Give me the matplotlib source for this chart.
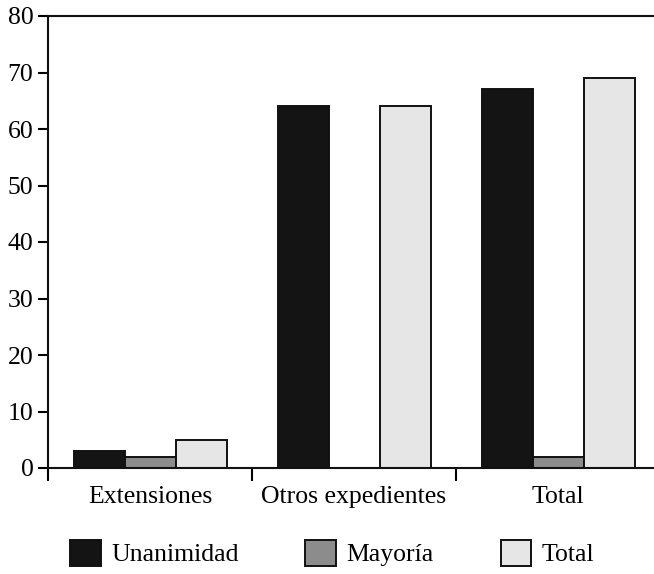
import matplotlib
matplotlib.use("Agg")
import matplotlib.pyplot as plt
import numpy as np

categories = ["Extensiones", "Otros expedientes", "Total"]
series_names = ["Unanimidad", "Mayoría", "Total"]
unanimidad = [3, 64, 67]
mayoria = [2, 0, 2]
total = [5, 64, 69]
yticks = [0, 10, 20, 30, 40, 50, 60, 70, 80]

colors = ["#141414", "#8c8c8c", "#e6e6e6"]

plt.rcParams['font.family'] = ['Liberation Serif', 'DejaVu Serif']
FS = 18.5

fig = plt.figure(figsize=(6.54, 5.74), dpi=100)
W, H = 654, 574
ax = fig.add_axes([48 / W, 1 - 468 / H, 612 / W, (468 - 16) / H])

x = np.arange(len(categories)) + 0.5
bw = 0.25
values = [unanimidad, mayoria, total]
for i, (vals, c, name) in enumerate(zip(values, colors, series_names)):
    ax.bar(x + (i - 1) * bw, vals, width=bw, color=c, edgecolor="#111111",
           linewidth=1.4, label=name)

ax.set_xlim(0, 3)
ax.set_ylim(0, 80)
ax.set_yticks(yticks)
ax.set_xticks([0, 1, 2, 3])
ax.set_xticklabels([])
ax.set_xticks(x, minor=True)
ax.set_xticklabels(categories, minor=True)
ax.tick_params(axis='x', which='minor', length=0, pad=13, labelsize=FS)
ax.tick_params(axis='x', which='major', length=9, width=1.5, direction='out')
ax.tick_params(axis='y', length=7.5, width=1.5, direction='out', labelsize=FS, pad=3)
for s in ['left', 'top', 'bottom', 'right']:
    ax.spines[s].set_linewidth(1.5)
    ax.spines[s].set_color("#111111")

handles, labels = ax.get_legend_handles_labels()
fig.legend(handles, labels, loc='center', bbox_to_anchor=(0.508, 1 - 553 / H),
           ncol=3, frameon=False, fontsize=FS, handlelength=1.2, handleheight=1.2,
           columnspacing=2.6, handletextpad=0.4)

fig.savefig("out.png", dpi=100)
